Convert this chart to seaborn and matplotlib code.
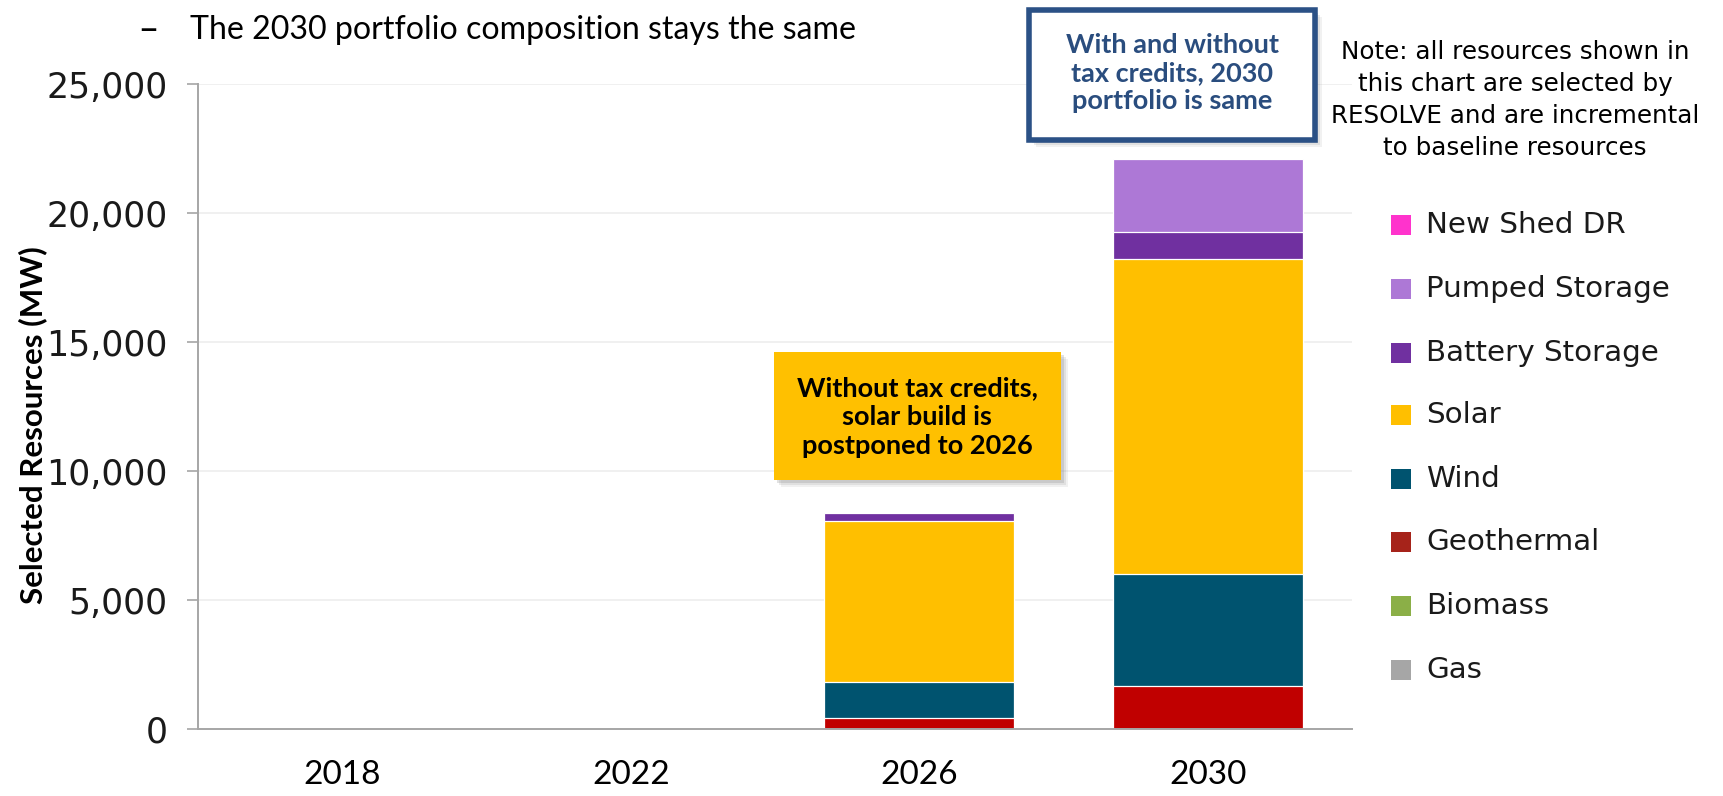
import matplotlib
matplotlib.use("Agg")
import matplotlib.pyplot as plt
from matplotlib.patches import Rectangle
import numpy as np
import pandas as pd
import seaborn as sns

# ---- data -------------------------------------------------------------
years = ["2018", "2022", "2026", "2030"]

# resources from the bottom of the stack to the top
resources = ["Gas", "Biomass", "Geothermal", "Wind", "Solar",
             "Battery Storage", "Pumped Storage", "New Shed DR"]

gas_mw        = [0, 0, 0, 0]
biomass_mw    = [0, 0, 0, 0]
geothermal_mw = [0, 0, 410, 1670]
wind_mw       = [0, 0, 1400, 4350]
solar_mw      = [0, 0, 6260, 12220]
battery_mw    = [0, 0, 300, 1050]
pumped_mw     = [0, 0, 0, 2810]
shed_dr_mw    = [0, 0, 0, 0]

bar_colors = {
    "Gas": "#A6A6A6",
    "Biomass": "#8BAF47",
    "Geothermal": "#C00000",
    "Wind": "#00536F",
    "Solar": "#FFBF00",
    "Battery Storage": "#7030A0",
    "Pumped Storage": "#AD78D6",
    "New Shed DR": "#FF33CC",
}
legend_colors = dict(bar_colors, Geothermal="#A6231A")

series = {
    "Gas": gas_mw, "Biomass": biomass_mw, "Geothermal": geothermal_mw,
    "Wind": wind_mw, "Solar": solar_mw, "Battery Storage": battery_mw,
    "Pumped Storage": pumped_mw, "New Shed DR": shed_dr_mw,
}

rows = []
for r in resources:
    for y, v in zip(years, series[r]):
        rows.append({"year": y, "resource": r, "MW": v})
df = pd.DataFrame(rows)
df["top"] = df.groupby("year")["MW"].cumsum()
df.loc[df["MW"] == 0, "top"] = np.nan

# ---- figure -----------------------------------------------------------
sns.set_theme(style="white")
plt.rcParams["font.family"] = ["DejaVu Sans"]

W, H = 1723, 796
fig = plt.figure(figsize=(W / 100, H / 100), dpi=100)
ax = fig.add_axes([198 / W, 1 - 729 / H, (1352 - 198) / W, (729 - 84.4) / H])

# stacked bars: draw cumulative tops from the highest layer downwards
for r in reversed(resources):
    sub = df[df["resource"] == r]
    sns.barplot(data=sub, x="year", y="top", order=years,
                color=bar_colors[r], saturation=1, width=0.657,
                edgecolor="white", linewidth=0.9, errorbar=None, ax=ax)

ax.set_xlim(-0.5, 3.5)
ax.set_ylim(0, 25000)
ax.set_yticks(np.arange(0, 25001, 5000))
ax.set_yticklabels([f"{v:,}" for v in range(0, 25001, 5000)],
                   fontsize=25, color="#1a1a1a", family="DejaVu Sans")
ax.yaxis.grid(True, color="#EDEDED", linewidth=1.2)
ax.set_axisbelow(True)

ax.set_xticks(range(len(years)))
ax.set_xticklabels(years, fontsize=24, color="#000000",
                   family=["Lato", "DejaVu Sans"])
ax.set_xticks(np.arange(-0.5, 3.6, 1), minor=True)
ax.tick_params(axis="x", which="major", length=0, pad=22)
ax.tick_params(axis="x", which="minor", length=10, width=1.2,
               color="#A6A6A6", direction="out")
ax.tick_params(axis="y", which="major", length=8, width=1.2,
               color="#A6A6A6", direction="out", pad=14, left=True)

for side in ["top", "right"]:
    ax.spines[side].set_visible(False)
for side in ["left", "bottom"]:
    ax.spines[side].set_color("#A6A6A6")
    ax.spines[side].set_linewidth(1.4)

ax.set_xlabel("")
ax.set_ylabel("Selected Resources (MW)", fontsize=22.5, fontweight="bold",
              family=["Lato", "DejaVu Sans"], color="#000000")
ax.yaxis.set_label_coords(-0.131, 0.472)

# ---- heading bullet ---------------------------------------------------
fig.text(139 / W, 1 - 30 / H, "–", fontsize=26, family="DejaVu Sans",
         va="center", ha="left", color="#000000")
fig.text(190 / W, 1 - 30 / H, "The 2030 portfolio composition stays the same",
         fontsize=23.1, family=["Lato", "DejaVu Sans"], va="center", ha="left",
         color="#000000")


def shadowed_box(x0, y0, x1, y1, face, edge, lw):
    """Box in pixel coordinates (top-left origin) with a soft drop shadow."""
    w, h = (x1 - x0) / W, (y1 - y0) / H
    bx, by = x0 / W, 1 - y1 / H
    for k, a in zip([7, 5, 3], [0.10, 0.15, 0.22]):
        fig.patches.append(Rectangle((bx + k / W, by - k / H), w, h,
                                     transform=fig.transFigure,
                                     facecolor="#7f7f7f", alpha=a,
                                     edgecolor="none", zorder=5))
    fig.patches.append(Rectangle((bx, by), w, h, transform=fig.transFigure,
                                 facecolor=face, edgecolor=edge, linewidth=lw,
                                 zorder=6))


# orange call-out over the 2026 bar
shadowed_box(774, 352, 1061, 480, "#FFC000", "none", 0)
fig.text(917 / W, 1 - 417 / H,
         "Without tax credits,\nsolar build is\npostponed to 2026",
         fontsize=19.5, fontweight="bold", family=["Lato", "DejaVu Sans"],
         ha="center", va="center", linespacing=1.25, color="#000000", zorder=7)

# blue-outlined call-out over the 2030 bar
shadowed_box(1029, 10, 1315, 140, "white", "#2B5186", 4)
fig.text(1172 / W, 1 - 73 / H,
         "With and without\ntax credits, 2030\nportfolio is same",
         fontsize=19.5, fontweight="bold", family=["Lato", "DejaVu Sans"],
         ha="center", va="center", linespacing=1.22, color="#2A4D7E", zorder=7)

# note above the legend
fig.text(1515 / W, 1 - 100 / H,
         "Note: all resources shown in\nthis chart are selected by\n"
         "RESOLVE and are incremental\nto baseline resources",
         fontsize=17.7, family="DejaVu Sans", ha="center", va="center",
         linespacing=1.42, color="#000000")

# legend, top entry first
legend_y = [225, 289, 353, 415, 479, 542, 606, 670]
for r, ly in zip(list(reversed(resources)), legend_y):
    fig.patches.append(Rectangle((1391 / W, 1 - (ly + 10) / H), 20 / W, 20 / H,
                                 transform=fig.transFigure,
                                 facecolor=legend_colors[r], edgecolor="none"))
    fig.text(1426 / W, 1 - ly / H, r, fontsize=21.2, family="DejaVu Sans",
             ha="left", va="center", color="#1a1a1a")

fig.savefig("out.png", dpi=100)
